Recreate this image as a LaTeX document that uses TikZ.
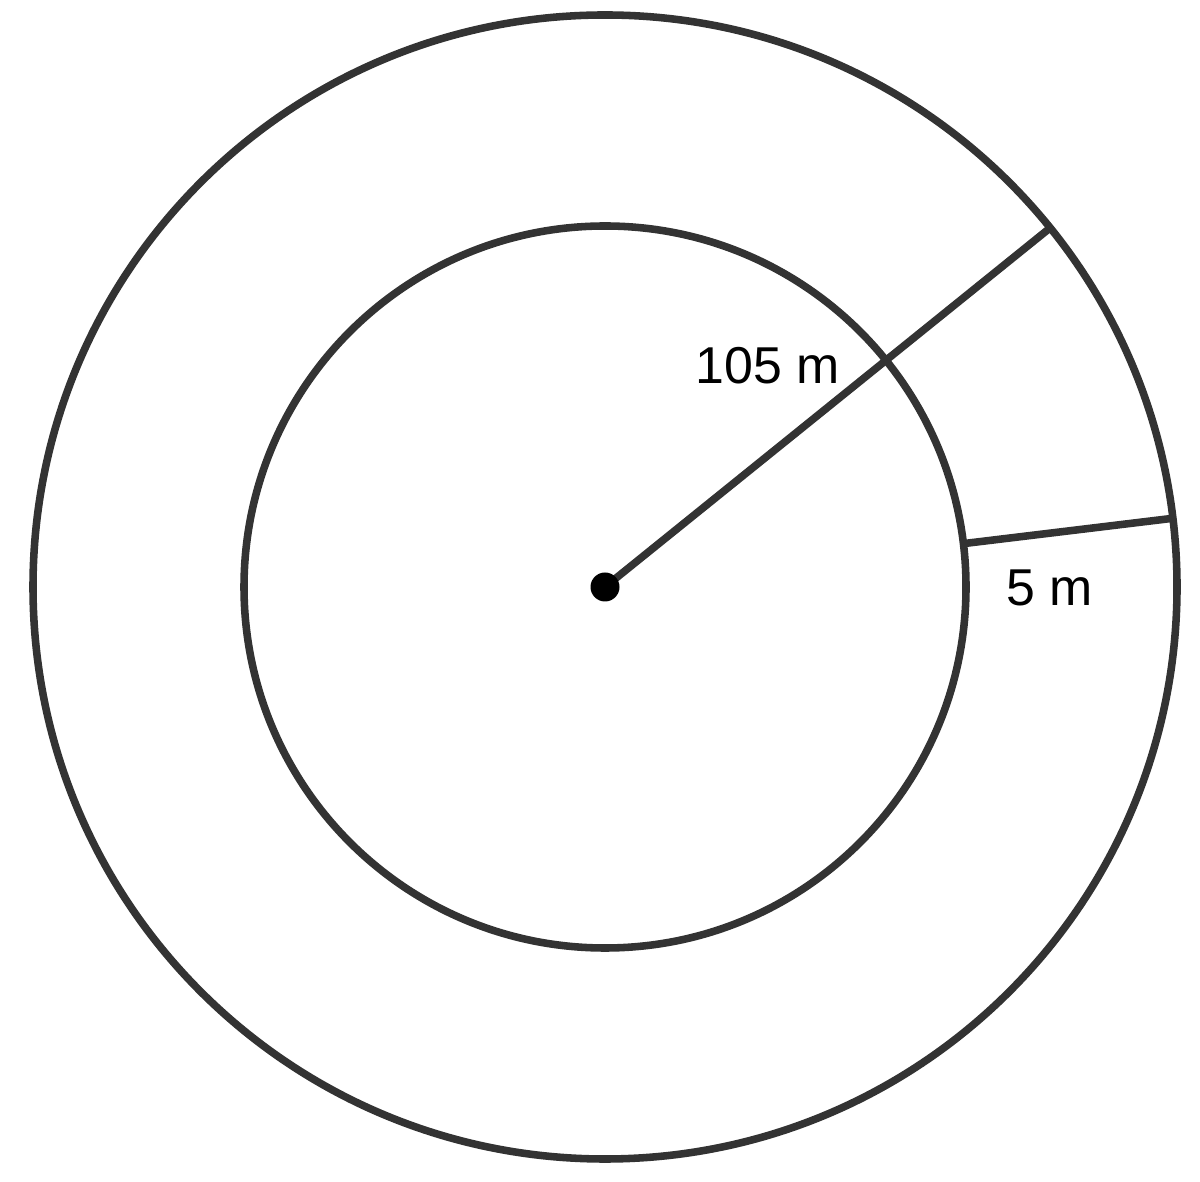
\documentclass[tikz,border=0pt]{standalone}
\usepackage{fontspec}
\setmainfont{Liberation Sans}
\usepackage{tikz}
\usetikzlibrary{positioning}
\definecolor{ringgray}{HTML}{333333}

\begin{document}
\begin{tikzpicture}
\tikzset{ring/.style={draw=ringgray,line width=4.3pt},
  lbl/.style={inner sep=0pt,font=\fontsize{29.5}{35}\selectfont}}
\useasboundingbox (0,0) rectangle (24,23.62);
\coordinate (O) at (12.1,11.88);
\draw [ring] (O) circle (11.44);
\draw [ring] (O) circle (7.22);
\coordinate (rOut) at (21.0,19.06);
\draw [ring] (O) -- (rOut);
\coordinate (wIn) at (19.29,12.75);
\coordinate (wOut) at (23.457,13.254);
\draw [ring] (wIn) -- (wOut);
\fill [black] (O) circle (0.29);
\node [lbl] (rLabel) at (15.36,16.31) {105 m};
\node [lbl] (wLabel) at (21.0,11.87) {5 m};
\end{tikzpicture}
\end{document}
